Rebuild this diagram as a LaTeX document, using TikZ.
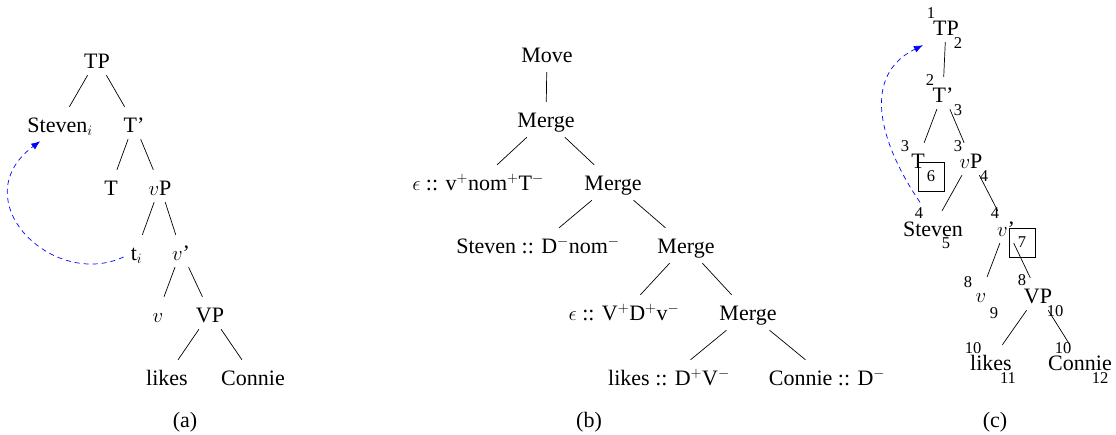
\documentclass[tikz,border=0pt]{standalone}
\usepackage{fontspec}
\setmainfont{Liberation Serif}
\usetikzlibrary{arrows.meta}
\DeclareMathSizes{22}{22}{15}{11}
\newcommand\mainfs{\fontsize{22}{26}\selectfont}
\newcommand\numfs{\fontsize{16.5}{19}\selectfont}
\tikzset{
  tn/.style={anchor=base, font=\mainfs, text height=18pt, text depth=0pt, inner ysep=7pt, inner xsep=2pt},
  bn/.style={anchor=base, font=\mainfs, text height=17pt, text depth=2pt, inner ysep=8pt, inner xsep=2pt},
  capt/.style={anchor=base, font=\mainfs, inner sep=0pt},
  num/.style={anchor=center, font=\numfs, inner sep=0pt},
  boxnum/.style={draw, line width=0.7pt, font=\numfs, minimum width=26pt, minimum height=29pt, inner sep=0pt},
  br/.style={draw, line width=0.7pt},
  mv/.style={draw=blue, line width=0.7pt, dash pattern=on 5pt off 4pt, -{Latex[length=9pt,width=7pt]}}
}
\begin{document}
\begin{tikzpicture}[x=1pt,y=-1pt]
\useasboundingbox (0,0) rectangle (1116,434);
% ---------- (a)
\node[tn] (aTP) at (97,68) {TP};
\node[tn] (aSt) at (60,132) {Steven$_i$};
\node[tn] (aTb) at (134,132) {T'};
\node[tn] (aT) at (111,195) {T};
\node[tn] (avP) at (160,195) {$v$P};
\node[tn] (ati) at (136.5,260) {t$_i$};
\node[tn] (avb) at (181,260) {$v$'};
\node[tn] (av) at (158,322) {$v$};
\node[tn] (aVP) at (210,322) {VP};
\node[tn] (alk) at (167,385) {likes};
\node[tn] (aCo) at (253,385) {Connie};
\node[capt] (capa) at (185,427) {(a)};
\draw[br] (aTP) -- (aSt);
\draw[br] (aTP) -- (aTb);
\draw[br] (aTb) -- (aT);
\draw[br] (aTb) -- (avP);
\draw[br] (avP) -- (ati);
\draw[br] (avP) -- (avb);
\draw[br] (avb) -- (av);
\draw[br] (avb) -- (aVP);
\draw[br] (aVP) -- (alk);
\draw[br] (aVP) -- (aCo);
\draw[mv] ([shift={(-5,6)}]ati.west) .. controls +(-72,33) and +(-78,58) .. ([shift={(15,2)}]aSt.south west);
% ---------- (b)
\node[bn] (bMv) at (547,62) {Move};
\node[bn] (bM1) at (546,127) {Merge};
\node[bn] (be1) at (478,190) {$\epsilon$ :: v$^+$nom$^+$T$^-$};
\node[bn] (bM2) at (613,190) {Merge};
\node[bn] (bSt) at (538,253) {Steven :: D$^-$nom$^-$};
\node[bn] (bM3) at (686,253) {Merge};
\node[bn] (be2) at (624,320) {$\epsilon$ :: V$^+$D$^+$v$^-$};
\node[bn] (bM4) at (748,320) {Merge};
\node[bn] (blk) at (669,385) {likes :: D$^+$V$^-$};
\node[bn] (bCo) at (827,385) {Connie :: D$^-$};
\node[capt] (capb) at (589,427) {(b)};
\draw[br] (bMv) -- (bM1);
\draw[br] (bM1) -- (be1);
\draw[br] (bM1) -- (bM2);
\draw[br] (bM2) -- (bSt);
\draw[br] (bM2) -- (bM3);
\draw[br] (bM3) -- (be2);
\draw[br] (bM3) -- (bM4);
\draw[br] (bM4) -- (blk);
\draw[br] (bM4) -- (bCo);
% ---------- (c)
\node[tn] (cTP) at (946,35) {TP};
\node[tn] (cTb) at (943,102) {T'};
\node[tn] (cT) at (918,168) {T};
\node[tn] (cvP) at (971,168) {$v$P};
\node[tn] (cSt) at (933,236) {Steven};
\node[tn] (cvb) at (1006,236) {$v$'};
\node[tn] (cv) at (981,302) {$v$};
\node[tn] (cVP) at (1038,303) {VP};
\node[tn] (clk) at (991,370) {likes};
\node[tn] (cCo) at (1080,370) {Connie};
\node[capt] (capc) at (995,427) {(c)};
% numbers
\node[num] (cTPa) at (931,13) {1};
\node[num] (cTPb) at (958,43) {2};
\node[num] (cTba) at (930,80) {2};
\node[num] (cTbb) at (958,110) {3};
\node[num] (cTa) at (905,146) {3};
\node[num] (cvPa) at (958,146) {3};
\node[num] (cvPb) at (984,176) {4};
\node[num] (cSta) at (919,213) {4};
\node[num] (cStb) at (946,243) {5};
\node[num] (cvba) at (995,213) {4};
\node[num] (cva) at (968,282) {8};
\node[num] (cvb9) at (994,313) {9};
\node[num] (cVPa) at (1022,280) {8};
\node[num] (cVPb) at (1055,311) {10};
\node[num] (clka) at (973,348) {10};
\node[num] (clkb) at (1008,378) {11};
\node[num] (cCoa) at (1063,348) {10};
\node[num] (cCob) at (1100,378) {12};
\node[boxnum] (box6) at (931,176.5) {6};
\node[boxnum] (box7) at (1022,242.5) {7};
\draw[br] (cTP) -- (cTb);
\draw[br] (cTb) -- (cT);
\draw[br] (cTb) -- (cvP);
\draw[br] (cvP) -- (cSt);
\draw[br] (cvP) -- (cvb);
\draw[br] (cvb) -- (cv);
\draw[br] (cvb) -- (cVP);
\draw[br] (cVP) -- (clk);
\draw[br] (cVP) -- (cCo);
\draw[mv] ([shift={(1,-5)}]cSta.north) .. controls +(-42,-62) and +(-61,30) .. ([shift={(-8,3)}]cTP.south west);
\end{tikzpicture}
\end{document}
